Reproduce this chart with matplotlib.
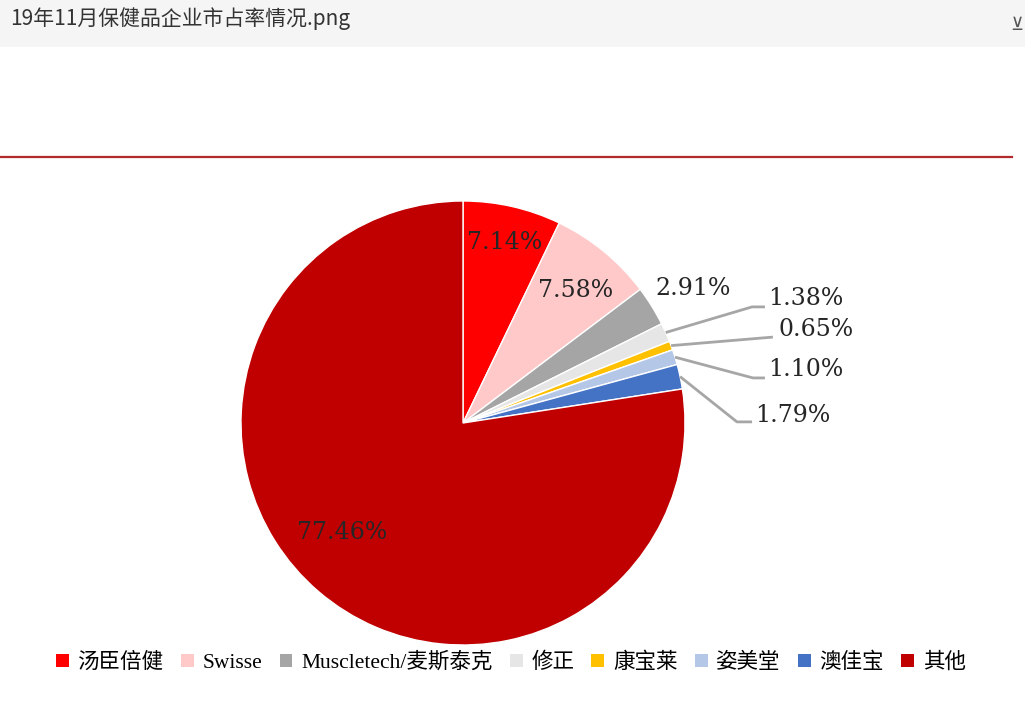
import matplotlib.pyplot as plt
from matplotlib.patches import Patch, Rectangle
import numpy as np

# data
companies = ['汤臣倍健', 'Swisse', 'Muscletech/麦斯泰克', '修正', '康宝莱', '姿美堂', '澳佳宝', '其他']
shares = [7.14, 7.58, 2.91, 1.38, 0.65, 1.10, 1.79, 77.46]
share_labels = ['7.14%', '7.58%', '2.91%', '1.38%', '0.65%', '1.10%', '1.79%', '77.46%']
colors = ['#FF0000', '#FFC9C9', '#A5A5A5', '#E7E6E6', '#FFC000', '#B4C7E7', '#4472C4', '#C00000']

W, H = 1025, 703
fig = plt.figure(figsize=(W / 100, H / 100), dpi=100)
fig.patch.set_facecolor('white')

# screenshot header bar
fig.patches.append(Rectangle((0, 1 - 47 / H), 1, 47 / H, transform=fig.transFigure,
                             facecolor='#F5F5F5', edgecolor='none'))
fig.text(10 / W, 1 - 19 / H, '19年11月保健品企业市占率情况.png', fontsize=15,
         family=['Noto Sans CJK SC', 'DejaVu Sans'], color='#333333', va='center', ha='left')
fig.text(1023 / W, 1 - 25 / H, '⊻', fontsize=13, color='#555555', va='center', ha='right')

# red rule under the (cropped) title
fig.add_artist(plt.Line2D([0, 1012 / W], [1 - 157 / H, 1 - 157 / H], transform=fig.transFigure,
                          color='#B0292B', lw=1.6))

# pie axes: centre (463, 423) px, radius 222 px
cx, cy, r = 463, 423, 222
ax = fig.add_axes([(cx - r) / W, (H - cy - r) / H, 2 * r / W, 2 * r / H])

wedges, _ = ax.pie(shares, colors=colors, startangle=90, counterclock=False, radius=1,
                   wedgeprops=dict(edgecolor='white', linewidth=1))
ax.set_xlim(-1, 1)
ax.set_ylim(-1, 1)
ax.axis('off')

num_font = dict(family='DejaVu Serif', fontsize=17, color='#262626')

# labels placed on/near slices
inside_pos = {0: (0.189, 0.815), 1: (0.505, 0.595), 2: (1.036, 0.604), 7: (-0.545, -0.491)}
for i, (x, y) in inside_pos.items():
    ax.text(x, y, share_labels[i], ha='center', va='center', **num_font)

# small slices with leader lines: (knee, end, text anchor)
leaders = {
    3: ((1.302, 0.523), (1.360, 0.523), (1.374, 0.563)),
    4: ((1.396, 0.387), (1.396, 0.387), (1.419, 0.423)),
    5: ((1.306, 0.203), (1.360, 0.203), (1.374, 0.239)),
    6: ((1.234, 0.005), (1.302, 0.005), (1.315, 0.036)),
}
for i, (knee, end, txt) in leaders.items():
    w = wedges[i]
    ang = np.deg2rad((w.theta1 + w.theta2) / 2)
    x0, y0 = np.cos(ang), np.sin(ang)
    ax.plot([x0, knee[0], end[0]], [y0, knee[1], end[1]], color='#A6A6A6', lw=2,
            clip_on=False, solid_capstyle='butt')
    ax.text(txt[0], txt[1], share_labels[i], ha='left', va='center', **num_font)

# legend
handles = [Patch(facecolor=c, edgecolor='none', label=n) for c, n in zip(colors, companies)]
fig.legend(handles=handles, loc='center', bbox_to_anchor=(511 / W, 1 - 663 / H), ncol=8,
           frameon=False, handlelength=0.6, handleheight=0.6, handletextpad=0.4,
           columnspacing=0.8, prop=dict(family=['Liberation Serif', 'Noto Sans CJK SC'], size=15.5))

fig.savefig('out.png', dpi=100)
